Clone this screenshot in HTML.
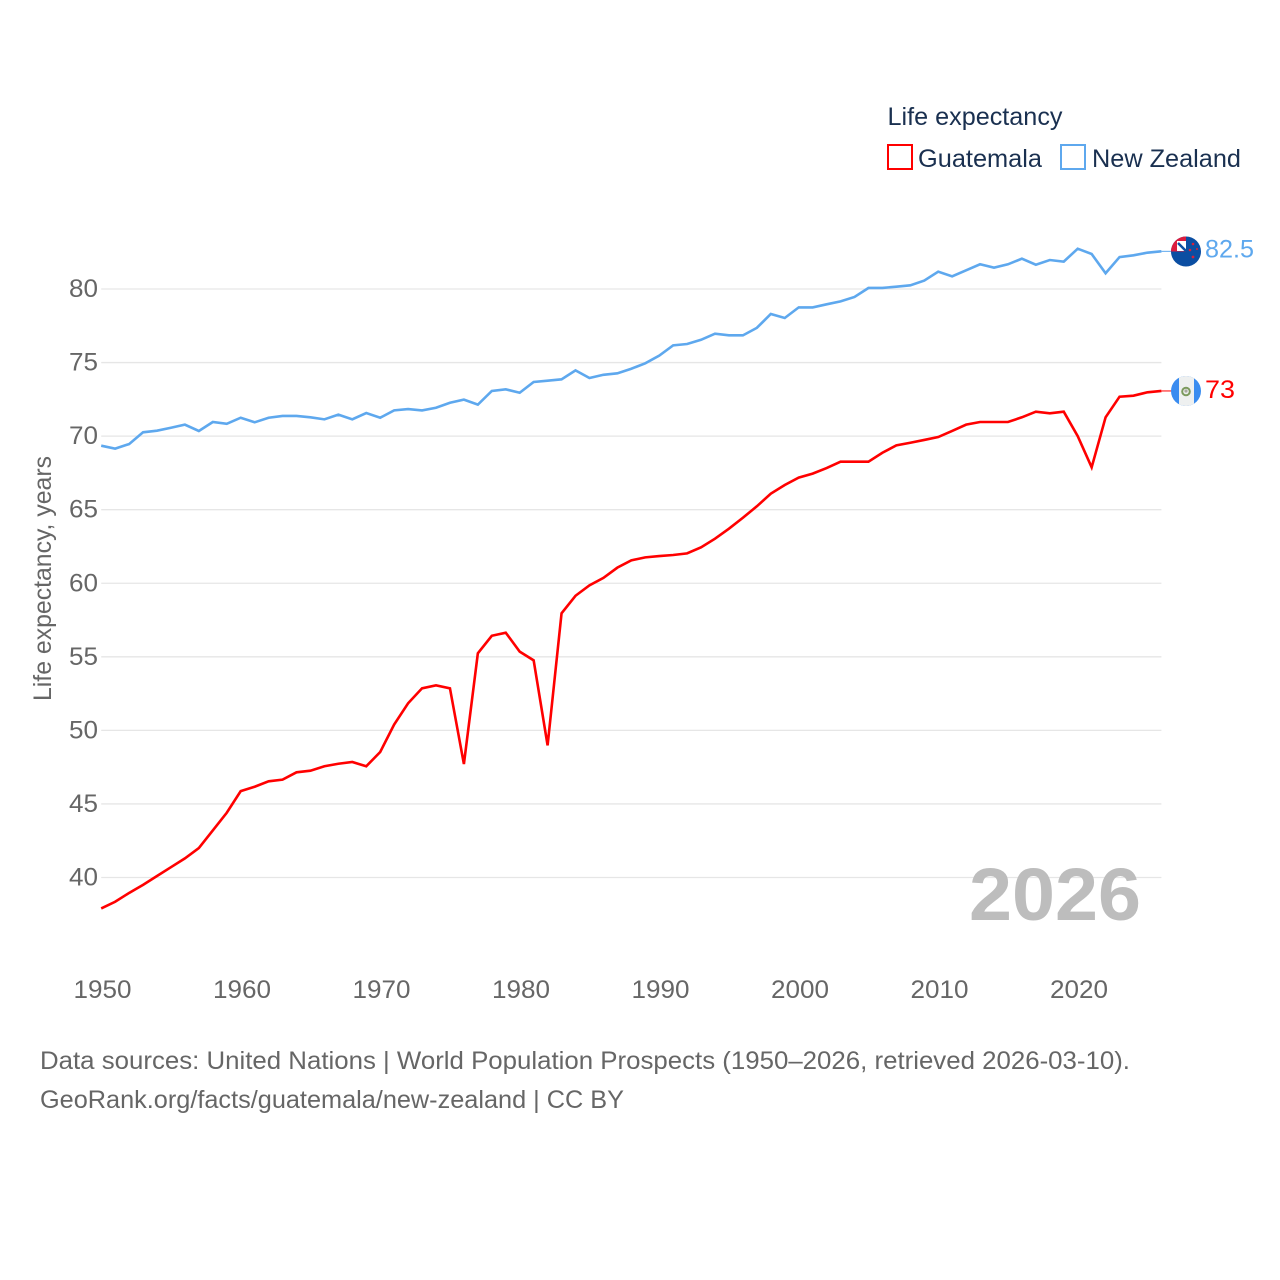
<!DOCTYPE html>
<html lang="en">
<head>
<meta charset="utf-8">
<title>Life expectancy: Guatemala and New Zealand</title>
<style>
html,body{margin:0;padding:0;background:#fff;width:1280px;height:1280px;overflow:hidden}
svg{display:block}
text{font-family:"Liberation Sans",sans-serif}
</style>
</head>
<body>
<svg id="chart" xmlns="http://www.w3.org/2000/svg" width="1280" height="1280" viewBox="0 0 1280 1280">
  <defs>
    <clipPath id="flag-clip-nz"><circle cx="1186" cy="251.5" r="15"/></clipPath>
    <clipPath id="flag-clip-gt"><circle cx="1186" cy="391" r="15"/></clipPath>
  </defs>
  <g id="grid"></g>
  <g id="yticks"></g>
  <g id="xticks"></g>
  <text transform="translate(51,701) rotate(-90)" font-size="25" fill="#666" textLength="245" lengthAdjust="spacingAndGlyphs">Life expectancy, years</text>
  <text x="969" y="920" font-size="74" font-weight="700" fill="#bdbdbd" textLength="172" lengthAdjust="spacingAndGlyphs">2026</text>
  <g id="series"></g>

  <g clip-path="url(#flag-clip-nz)">
    <rect x="1171" y="236" width="30" height="31" fill="#0b4ea2"/>
    <rect x="1171" y="236" width="15" height="15.5" fill="#dc1c3e"/>
    <rect x="1177" y="241" width="9" height="10" fill="#fff"/>
    <path d="M1178 243 L1186 251" stroke="#0b4ea2" stroke-width="2.5"/>
    <circle cx="1193" cy="244" r="1.3" fill="#d8213a"/>
    <circle cx="1190" cy="250" r="1.3" fill="#d8213a"/>
    <circle cx="1197" cy="249" r="1" fill="#d8213a"/>
    <circle cx="1193" cy="257" r="1.4" fill="#d8213a"/>
  </g>
  <g clip-path="url(#flag-clip-gt)">
    <rect x="1171" y="376" width="30" height="30" fill="#3a8cf0"/>
    <rect x="1179" y="376" width="15" height="30" fill="#eef0f0"/>
    <circle cx="1186" cy="391.5" r="3.8" fill="none" stroke="#7c9a5e" stroke-width="2"/>
    <circle cx="1186" cy="391" r="1.6" fill="#a8a8a0"/>
  </g>

  <text x="1205" y="257.5" font-size="25" fill="#5ea8ee" textLength="49" lengthAdjust="spacingAndGlyphs">82.5</text>
  <text x="1205" y="398" font-size="25" fill="#ff0000" textLength="30" lengthAdjust="spacingAndGlyphs">73</text>

  <g>
    <text x="887.5" y="125" font-size="25" fill="#1a3050" textLength="175" lengthAdjust="spacingAndGlyphs">Life expectancy</text>
    <rect x="888" y="145" width="24" height="24" fill="#fff" stroke="#ff0000" stroke-width="2"/>
    <text x="918" y="167" font-size="25" fill="#1a3050" textLength="124" lengthAdjust="spacingAndGlyphs">Guatemala</text>
    <rect x="1061" y="145" width="24" height="24" fill="#fff" stroke="#5ea8ee" stroke-width="2"/>
    <text x="1092" y="167" font-size="25" fill="#1a3050" textLength="149" lengthAdjust="spacingAndGlyphs">New Zealand</text>
  </g>

  <text x="40" y="1069" font-size="25" fill="#666" textLength="1090" lengthAdjust="spacingAndGlyphs">Data sources: United Nations | World Population Prospects (1950–2026, retrieved 2026-03-10).</text>
  <text x="40" y="1108" font-size="25" fill="#666" textLength="584" lengthAdjust="spacingAndGlyphs">GeoRank.org/facts/guatemala/new-zealand | CC BY</text>
</svg>
<script>
const startYear = 1950;
const yTickLabels = [40, 45, 50, 55, 60, 65, 70, 75, 80];
const xTickLabels = [1950, 1960, 1970, 1980, 1990, 2000, 2010, 2020];
const guatemala = [37.9,38.35,38.95,39.5,40.1,40.7,41.3,42.0,43.2,44.4,45.87,46.17,46.54,46.65,47.15,47.26,47.56,47.73,47.85,47.56,48.53,50.4,51.84,52.86,53.06,52.86,47.71,55.24,56.43,56.64,55.35,54.76,48.98,57.96,59.15,59.86,60.36,61.06,61.56,61.76,61.85,61.92,62.03,62.44,63.03,63.71,64.45,65.23,66.09,66.68,67.18,67.45,67.83,68.26,68.26,68.26,68.87,69.37,69.55,69.74,69.94,70.35,70.78,70.96,70.96,70.96,71.28,71.66,71.55,71.66,70.0,67.88,71.28,72.68,72.75,72.98,73.07];
const newZealand = [69.35,69.15,69.46,70.26,70.37,70.57,70.78,70.35,70.96,70.84,71.25,70.94,71.25,71.37,71.37,71.28,71.14,71.46,71.14,71.57,71.25,71.75,71.84,71.75,71.93,72.27,72.48,72.14,73.07,73.18,72.95,73.68,73.77,73.86,74.47,73.95,74.17,74.27,74.58,74.95,75.47,76.17,76.26,76.55,76.96,76.85,76.85,77.36,78.3,78.03,78.75,78.75,78.96,79.16,79.46,80.07,80.07,80.16,80.25,80.57,81.18,80.86,81.27,81.68,81.45,81.68,82.06,81.65,81.97,81.86,82.74,82.38,81.07,82.17,82.29,82.47,82.56];

const NS = 'http://www.w3.org/2000/svg';
const xScale = function (year) { return 101.2 + (year - startYear) * 13.95; };
const yScale = function (v) { return 877.5 - (v - 40) * 14.7125; };
const lastYear = startYear + guatemala.length - 1;

const gridG = document.getElementById('grid');
const yG = document.getElementById('yticks');
const xG = document.getElementById('xticks');
const seriesG = document.getElementById('series');

yTickLabels.forEach(function (v) {
  const line = document.createElementNS(NS, 'line');
  
  
  line.setAttribute('x1', xScale(startYear));
  line.setAttribute('x2', xScale(lastYear));
  line.setAttribute('y1', yScale(v));
  line.setAttribute('y2', yScale(v));
  line.setAttribute('stroke', '#e6e6e6');
  line.setAttribute('stroke-width', '1.3');
  gridG.appendChild(line);

  const t = document.createElementNS(NS, 'text');
  
  
  t.setAttribute('x', 69);
  t.setAttribute('y', yScale(v) + 8);
  t.setAttribute('font-size', '25');
  t.setAttribute('fill', '#666');
  t.setAttribute('textLength', '29');
  t.setAttribute('lengthAdjust', 'spacingAndGlyphs');
  t.textContent = String(v);
  yG.appendChild(t);
});

xTickLabels.forEach(function (y) {
  const t = document.createElementNS(NS, 'text');
  
  
  t.setAttribute('x', xScale(y) - 27.7);
  t.setAttribute('y', 998);
  t.setAttribute('font-size', '25');
  t.setAttribute('fill', '#666');
  t.setAttribute('textLength', '58');
  t.setAttribute('lengthAdjust', 'spacingAndGlyphs');
  t.textContent = String(y);
  xG.appendChild(t);
});

function drawSeries(values, color) {
  const pts = values.map(function (v, i) {
    return xScale(startYear + i).toFixed(2) + ',' + yScale(v).toFixed(2);
  }).join(' ');
  const line = document.createElementNS(NS, 'polyline');
  
  
  line.setAttribute('points', pts);
  line.setAttribute('fill', 'none');
  line.setAttribute('stroke', color);
  line.setAttribute('stroke-width', '2.6');
  line.setAttribute('stroke-linejoin', 'miter');
  seriesG.appendChild(line);

  const lastV = values[values.length - 1];
  const conn = document.createElementNS(NS, 'line');
  
  
  conn.setAttribute('x1', xScale(lastYear));
  conn.setAttribute('x2', xScale(lastYear) + 10);
  conn.setAttribute('y1', yScale(lastV));
  conn.setAttribute('y2', yScale(lastV));
  conn.setAttribute('stroke', color);
  conn.setAttribute('stroke-width', '1');
  seriesG.appendChild(conn);
}
drawSeries(newZealand, '#5ea8ee');
drawSeries(guatemala, '#ff0000');
</script>
</body>
</html>
